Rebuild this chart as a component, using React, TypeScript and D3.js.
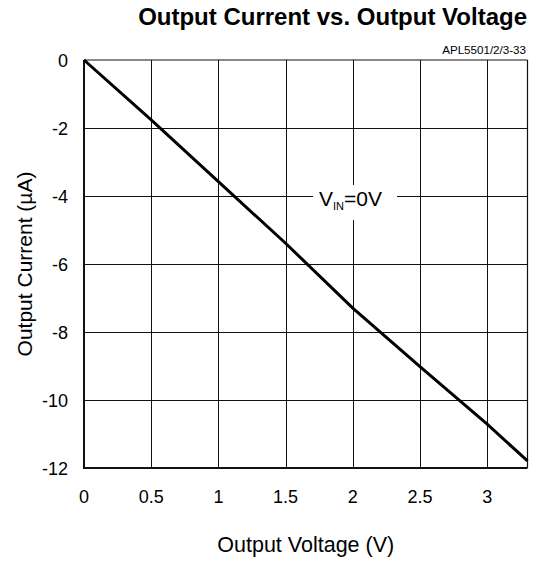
import React from "react";
import * as d3 from "d3";

const voltage = [0, 0.5, 1, 1.5, 2, 2.5, 3, 3.3];
const current = [0, -1.76, -3.58, -5.39, -7.3, -9.02, -10.71, -11.79];
const xTicks = [0, 0.5, 1, 1.5, 2, 2.5, 3];
const yTicks = [0, -2, -4, -6, -8, -10, -12];
const xTickLabels = ["0", "0.5", "1", "1.5", "2", "2.5", "3"];
const yTickLabels = ["0", "-2", "-4", "-6", "-8", "-10", "-12"];

const W = 534;
const H = 562;
const font = "'Liberation Sans', Arial, Helvetica, sans-serif";

export default function App() {
  const x = d3.scaleLinear().domain([0, 3.3]).range([84, 527.5]);
  const y = d3.scaleLinear().domain([-12, 0]).range([468, 60]);
  const pts: [number, number][] = voltage.map((v, i) => [v, current[i]]);
  const line = d3
    .line<[number, number]>()
    .x((d) => x(d[0]))
    .y((d) => y(d[1]));
  const x0 = x(0), x1 = x(3.3), y0 = y(-12), y1 = y(0);
  const cx = (x0 + x1) / 2;
  const cy = (y0 + y1) / 2;

  return (
    <svg
      width={W}
      height={H}
      style={{ position: "absolute", left: 0, top: 0, background: "#fff" }}
      fontFamily={font}
    >
      <rect x={0} y={0} width={W} height={H} fill="#fff" />
      {/* grid */}
      {xTicks.slice(1).map((t) => (
        <line key={"gx" + t} x1={Math.round(x(t)) + 0.5} x2={Math.round(x(t)) + 0.5} y1={y1} y2={y0} stroke="#111" strokeWidth={1} />
      ))}
      {yTicks.slice(1, -1).map((t) => (
        <line key={"gy" + t} x1={x0} x2={x1} y1={Math.round(y(t)) + 0.5} y2={Math.round(y(t)) + 0.5} stroke="#111" strokeWidth={1} />
      ))}
      {/* frame */}
      <line x1={x0} x2={x1} y1={y1} y2={y1} stroke="#111" strokeWidth={1.2} />
      <line x1={x1} x2={x1} y1={y1} y2={y0} stroke="#111" strokeWidth={1.2} />
      <line x1={x0} x2={x0} y1={y1} y2={y0 + 1} stroke="#111" strokeWidth={2} />
      <line x1={x0 - 1} x2={x1} y1={y0} y2={y0} stroke="#111" strokeWidth={2} />
      {/* label background */}
      <rect x={313} y={185} width={84} height={35} fill="#fff" />
      {/* data line */}
      <path d={line(pts) || ""} fill="none" stroke="#000" strokeWidth={3} />
      {/* label */}
      <text x={319} y={206} fontSize={21} fill="#000">
        V<tspan fontSize={11} dy={3.5}>IN</tspan>
        <tspan dy={-3.5}>=0V</tspan>
      </text>
      {/* ticks labels */}
      {xTicks.map((t, i) => (
        <text key={"xt" + t} x={x(t)} y={503} fontSize={18} textAnchor="middle" fill="#000">
          {xTickLabels[i]}
        </text>
      ))}
      {yTicks.map((t, i) => (
        <text key={"yt" + t} x={68} y={y(t) + 6.5} fontSize={18} textAnchor="end" fill="#000">
          {yTickLabels[i]}
        </text>
      ))}
      {/* titles */}
      <text x={527} y={25} fontSize={24} fontWeight="bold" textAnchor="end" fill="#000">
        Output Current vs. Output Voltage
      </text>
      <text x={526} y={54} fontSize={11.6} textAnchor="end" fill="#000">
        APL5501/2/3-33
      </text>
      <text x={cx} y={552} fontSize={21.5} textAnchor="middle" fill="#000">
        Output Voltage (V)
      </text>
      <text transform={`translate(32,${cy}) rotate(-90)`} fontSize={21} textAnchor="middle" fill="#000">
        Output Current (µA)
      </text>
    </svg>
  );
}
